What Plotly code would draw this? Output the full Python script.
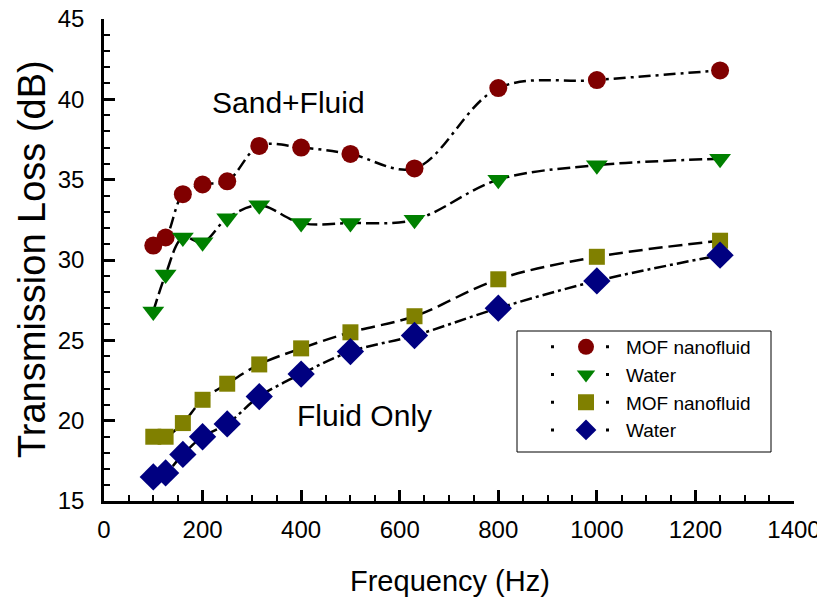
import plotly.graph_objects as go

freq = [100, 125, 160, 200, 250, 315, 400, 500, 630, 800, 1000, 1250]
sand_mof = [30.9, 31.4, 34.1, 34.7, 34.9, 37.1, 37.0, 36.6, 35.7, 40.7, 41.2, 41.8]
sand_water = [26.8, 29.1, 31.4, 31.1, 32.6, 33.4, 32.3, 32.3, 32.5, 35.0, 35.9, 36.3]
fluid_mof = [19.0, 19.0, 19.85, 21.3, 22.3, 23.5, 24.5, 25.5, 26.5, 28.8, 30.2, 31.2]
fluid_water = [16.5, 16.75, 17.9, 19.0, 19.8, 21.5, 22.9, 24.3, 25.3, 27.0, 28.7, 30.3]

series = [
    ("MOF nanofluid", sand_mof, "circle", "#800000", 18, "12px,5px,3px,5px"),
    ("Water", sand_water, "triangle-down", "#008000", 19, "13px,5px,13px,5px,3px,5px"),
    ("MOF nanofluid", fluid_mof, "square", "#808000", 16, "14px,6px"),
    ("Water", fluid_water, "diamond", "#000080", 21, "12px,4px,3px,4px"),
]

FONT = "Arial, Liberation Sans, sans-serif"
fig = go.Figure()
for name, ys, sym, col, sz, dash in series:
    fig.add_trace(go.Scatter(
        x=freq, y=ys, mode="lines", showlegend=False,
        line=dict(color="black", width=2.5, dash=dash, shape="spline", smoothing=1.0),
        hoverinfo="skip"))
for name, ys, sym, col, sz, dash in series:
    fig.add_trace(go.Scatter(
        x=freq, y=ys, mode="markers", showlegend=False, name=name,
        marker=dict(symbol=sym, color=col, size=sz, line=dict(width=0))))
# legend entries
for name, ys, sym, col, sz, dash in series:
    fig.add_trace(go.Scatter(
        x=[None], y=[None], mode="lines+markers", name=name,
        marker=dict(symbol=sym, color=col, size=sz, line=dict(width=0)),
        line=dict(color="black", width=3, dash="3px,52px")))

# page offset of the figure (browser body margin)
OFF = 8
W, H = 825 - OFF, 597 - OFF
# plot area in page pixels
X0, X1, Y0, Y1 = 104, 794, 19, 501
L, R, T, B = X0 - OFF, W - (X1 - OFF), Y0 - OFF, H - (Y1 - OFF)
pw, ph = X1 - X0, Y1 - Y0


def px(x):
    return (x - X0) / pw


def py(y):
    return (Y1 - y) / ph


shapes = [
    # legend box
    dict(type="rect", xref="paper", yref="paper",
         x0=px(517), x1=px(771), y0=py(452), y1=py(331),
         line=dict(color="black", width=1), fillcolor="rgba(0,0,0,0)"),
]

axis_common = dict(showline=True, linecolor="black", linewidth=2.5, mirror=False,
                   ticks="inside", tickcolor="black", tickwidth=2.5, ticklen=11,
                   showgrid=False, zeroline=False, automargin=False,
                   ticklabeloverflow="allow",
                   tickfont=dict(family=FONT, size=24, color="black"))

fig.update_layout(
    width=W, height=H,
    margin=dict(l=L, r=R, t=T, b=B, autoexpand=False),
    paper_bgcolor="white", plot_bgcolor="white",
    font=dict(family=FONT, color="black"),
    xaxis=dict(range=[0, 1400], dtick=200, tick0=0,
               minor=dict(dtick=50, ticks="inside", ticklen=6, tickwidth=1.5, tickcolor="black"),
               ticklabelstandoff=5, **axis_common),
    yaxis=dict(range=[15, 45], dtick=5, tick0=15,
               minor=dict(dtick=1, ticks="inside", ticklen=6, tickwidth=1.5, tickcolor="black"),
               ticklabelstandoff=12, **axis_common),
    legend=dict(x=px(546), y=py(328), xanchor="left", yanchor="top",
                bgcolor="rgba(0,0,0,0)", borderwidth=0,
                font=dict(family=FONT, size=19, color="black"),
                itemwidth=70, tracegroupgap=0),
    shapes=shapes,
    annotations=[
        dict(text="Sand+Fluid", x=375, y=39.8, xref="x", yref="y", showarrow=False,
             font=dict(family=FONT, size=30, color="black")),
        dict(text="Fluid Only", x=528, y=20.3, xref="x", yref="y", showarrow=False,
             font=dict(family=FONT, size=30, color="black")),
        dict(text="Frequency (Hz)", x=px(450), y=py(581), xref="paper", yref="paper",
             xanchor="center", yanchor="middle",
             showarrow=False, font=dict(family=FONT, size=29, color="black")),
        dict(text="Transmission Loss (dB)", x=px(32), y=py(259), xref="paper", yref="paper",
             xanchor="center", yanchor="middle",
             showarrow=False, textangle=-90, font=dict(family=FONT, size=38, color="black")),
    ],
)

fig.write_html("out.html")
